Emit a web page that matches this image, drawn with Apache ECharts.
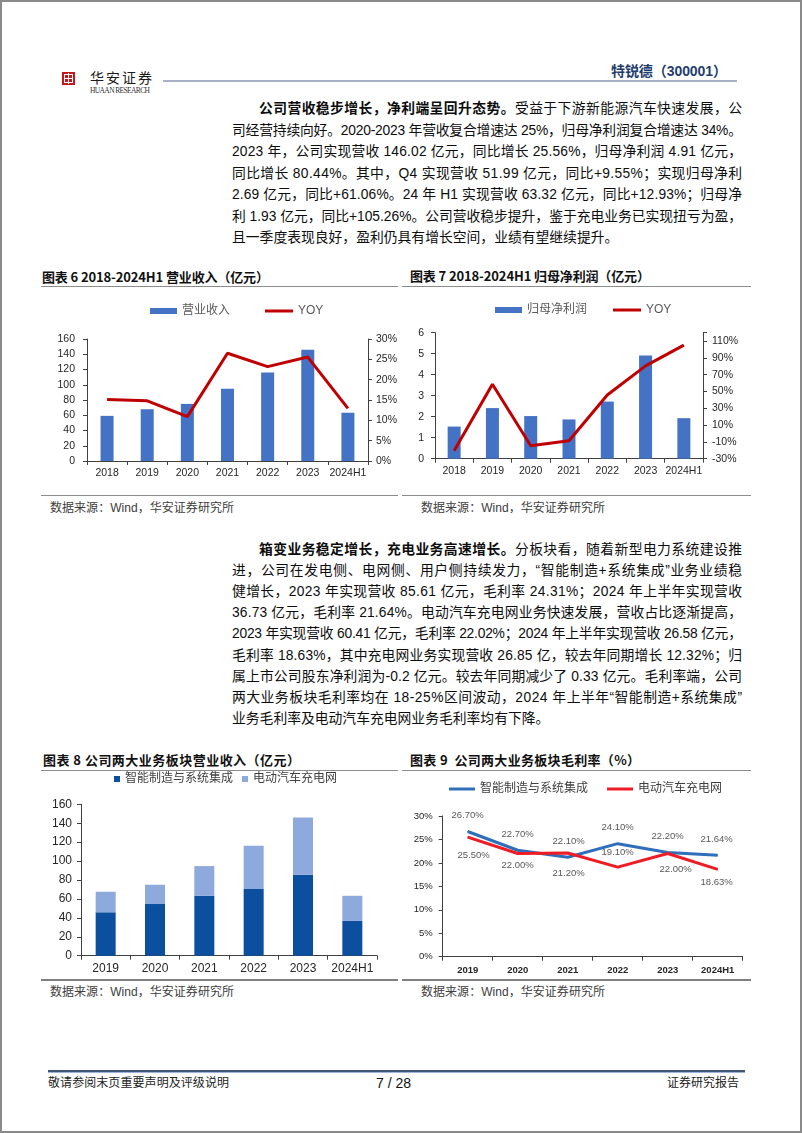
<!DOCTYPE html>
<html><head><meta charset="utf-8">
<script src="https://cdn.jsdelivr.net/npm/echarts@6/dist/echarts.min.js"></script>
<style>
html,body{margin:0;padding:0;background:#fff;}
#page{position:relative;width:802px;height:1133px;overflow:hidden;font-family:"Liberation Sans","Noto Sans CJK SC",sans-serif;color:#000;background:#fff;}
.frame{position:absolute;left:0;top:0;width:802px;height:1133px;box-sizing:border-box;border:2px solid #8a8a8a;pointer-events:none;}
.abs{position:absolute;white-space:nowrap;}
.ln{position:absolute;white-space:nowrap;font-size:13.8px;height:20px;line-height:20px;color:#0d0d0d;}
.ln b{font-weight:bold;}
.ttl{position:absolute;white-space:nowrap;font-weight:bold;font-size:13px;height:16px;line-height:16px;color:#111;font-family:"Noto Sans CJK SC","Liberation Sans",sans-serif;}
.hr{position:absolute;height:0;border-top:1.5px solid #8c8c8c;}
.src{position:absolute;white-space:nowrap;font-size:12px;height:16px;line-height:16px;color:#404040;}
.chart{position:absolute;}
</style></head>
<body><div id="page">
<div id="texts"></div>
<div id="c6" class="chart" style="left:40px;top:295px;width:360px;height:195px;"></div>
<div id="c7" class="chart" style="left:400px;top:295px;width:360px;height:195px;"></div>
<div id="c8" class="chart" style="left:40px;top:765px;width:360px;height:215px;"></div>
<div id="c9" class="chart" style="left:400px;top:765px;width:360px;height:215px;"></div>
<div class="frame"></div>
</div>
<script>
// ---------- data ----------
const years6 = ['2018', '2019', '2020', '2021', '2022', '2023', '2024H1'];
const revenue = [59.2, 67.9, 74.9, 94.9, 116.0, 146.02, 63.32];
const revenueYoy = [15.1, 14.8, 10.9, 26.5, 23.2, 25.56, 12.93];
const netProfit = [1.53, 2.41, 2.03, 1.87, 2.72, 4.91, 1.93];
const netProfitYoy = [-20.5, 58.6, -14.5, -8.6, 45.8, 80.44, 105.26];
const years8 = ['2019', '2020', '2021', '2022', '2023', '2024H1'];
const smartMfgRev = [45.8, 54.6, 63.3, 70.6, 85.61, 36.73];
const evChargingRev = [21.8, 20.4, 31.4, 45.7, 60.41, 26.58];
const smartMfgMargin = [26.7, 22.7, 21.2, 24.1, 22.2, 21.64];
const evChargingMargin = [25.5, 22.0, 22.1, 19.1, 22.0, 18.63];
const ticks6Left = [0, 160, 20];
const ticks6Right = [0, 30, 5];
const ticks7Left = [0, 6, 1];
const ticks7Right = [-30, 120, 20];
const ticks8 = [0, 160, 20];
const ticks9 = [0, 30, 5];

// ---------- text ----------
const para1 = [
  '<b>公司营收稳步增长，净利端呈回升态势。</b>受益于下游新能源汽车快速发展，公',
  '司经营持续向好。2020-2023 年营收复合增速达 25%，归母净利润复合增速达 34%。',
  '2023 年，公司实现营收 146.02 亿元，同比增长 25.56%，归母净利润 4.91 亿元，',
  '同比增长 80.44%。其中，Q4 实现营收 51.99 亿元，同比+9.55%；实现归母净利',
  '2.69 亿元，同比+61.06%。24 年 H1 实现营收 63.32 亿元，同比+12.93%；归母净',
  '利 1.93 亿元，同比+105.26%。公司营收稳步提升，鉴于充电业务已实现扭亏为盈，',
  '且一季度表现良好，盈利仍具有增长空间，业绩有望继续提升。'
];
const para2 = [
  '<b>箱变业务稳定增长，充电业务高速增长。</b>分板块看，随着新型电力系统建设推',
  '进，公司在发电侧、电网侧、用户侧持续发力，“智能制造+系统集成”业务业绩稳',
  '健增长，2023 年实现营收 85.61 亿元，毛利率 24.31%；2024 年上半年实现营收',
  '36.73 亿元，毛利率 21.64%。电动汽车充电网业务快速发展，营收占比逐渐提高，',
  '2023 年实现营收 60.41 亿元，毛利率 22.02%；2024 年上半年实现营收 26.58 亿元，',
  '毛利率 18.63%，其中充电网业务实现营收 26.85 亿，较去年同期增长 12.32%；归',
  '属上市公司股东净利润为-0.2 亿元。较去年同期减少了 0.33 亿元。毛利率端，公司',
  '两大业务板块毛利率均在 18-25%区间波动，2024 年上半年“智能制造+系统集成”',
  '业务毛利率及电动汽车充电网业务毛利率均有下降。'
];

const host = document.getElementById('texts');
function add(cls, html, style) {
  const d = document.createElement('div');
  d.className = cls; d.innerHTML = html; d.style.cssText = style;
  host.appendChild(d); return d;
}
function fit(el, target) {
  el.style.letterSpacing = '0px';
  const w = el.getBoundingClientRect().width;
  const n = [...el.textContent].length;
  if (n > 1) el.style.letterSpacing = ((target - w) / (n - 1)) + 'px';
}
function para(lines, y0, dy) {
  lines.forEach((t, i) => {
    const left = i === 0 ? 259 : 232;
    const el = add('ln', t, 'left:' + left + 'px;top:' + (y0 + i * dy - 10) + 'px;');
    if (i < lines.length - 1) fit(el, 742 - left);
  });
}
para(para1, 109, 21.55);
para(para2, 550, 21.1);

// header
add('abs', '', 'left:62px;top:72px;width:13px;height:13px;background:#c8161d;');
add('abs', '', 'left:64px;top:74px;width:7px;height:7px;border:1px solid #fff;');
add('abs', '', 'left:68px;top:73px;width:1px;height:11px;background:#fff;');
add('abs', '', 'left:65px;top:77.5px;width:7px;height:1px;background:#fff;');
const hz = add('abs', '华安证券', 'left:90px;top:69px;font-size:14px;line-height:17px;color:#1a1a1a;font-family:"Noto Sans CJK SC";');
fit(hz, 62);
const hr2 = add('abs', 'HUAAN RESEARCH', 'left:90px;top:86px;font-size:7.5px;line-height:9px;color:#333;font-family:"Liberation Serif";');
fit(hr2, 60);
add('abs', '', 'left:163px;top:80px;width:574px;height:2px;background:#a9b1c6;');
const tk = add('abs', '特锐德（300001）', 'left:611px;top:62px;font-size:14px;line-height:18px;font-weight:bold;color:#1f3e6e;');
fit(tk, 116);

// chart titles & rules
const t6 = add('ttl', '图表 6 2018-2024H1 营业收入（亿元）', 'left:42px;top:269px;'); fit(t6, 227);
const t7 = add('ttl', '图表 7 2018-2024H1 归母净利润（亿元）', 'left:410px;top:268px;'); fit(t7, 240);
const t8 = add('ttl', '图表 8 公司两大业务板块营业收入（亿元）', 'left:43px;top:752px;'); fit(t8, 257);
const t9 = add('ttl', '图表 9&nbsp;&nbsp;公司两大业务板块毛利率（%）', 'left:410px;top:752px;'); fit(t9, 230);
add('hr', '', 'left:41px;top:285.5px;width:357px;');
add('hr', '', 'left:402px;top:285.5px;width:349px;');
add('hr', '', 'left:41px;top:495px;width:357px;');
add('hr', '', 'left:402px;top:495px;width:349px;');
add('hr', '', 'left:41px;top:769.5px;width:357px;');
add('hr', '', 'left:402px;top:769.5px;width:349px;');
add('hr', '', 'left:41px;top:978.5px;width:357px;border-top:2px solid #808080;');
add('hr', '', 'left:402px;top:978.5px;width:349px;border-top:2px solid #808080;');
['50px;top:500px', '421px;top:500px', '50px;top:984px', '421px;top:984px'].forEach(p => {
  const s = add('src', '数据来源：Wind，华安证券研究所', 'left:' + p + ';'); fit(s, 184);
});

// footer
add('abs', '', 'left:48px;top:1070px;width:697px;height:2px;background:#3e5576;');
add('abs', '', 'left:48px;top:1072px;width:697px;height:1px;background:#9fb3d6;');
const f1 = add('abs', '敬请参阅末页重要声明及评级说明', 'left:48px;top:1075px;font-size:12px;line-height:16px;color:#222;'); fit(f1, 181);
add('abs', '7 / 28', 'left:376px;top:1074px;font-size:14px;line-height:18px;color:#111;');
const f3 = add('abs', '证券研究报告', 'left:667px;top:1075px;font-size:12px;line-height:16px;color:#222;'); fit(f3, 72);

// ---------- charts ----------
const FONT = '"Liberation Sans","Noto Sans CJK SC",sans-serif';
const AX = '#404040';
function legendItem(name, left, centerY, w, h, color, ox, oy, txtColor) {
  return {
    data: [{ name: name, icon: 'rect', itemStyle: { color: color, borderWidth: 0 } }],
    left: left - ox, top: centerY - 7 - oy, itemWidth: w, itemHeight: h, padding: 0,
    selectedMode: false,
    textStyle: { fontSize: 12, color: txtColor, lineHeight: 14, fontFamily: FONT }
  };
}
function valAxis(t, extra) {
  return Object.assign({
    type: 'value', min: t[0], max: t[1], interval: t[2],
    axisLine: { show: true, lineStyle: { color: AX, width: 1 } },
    axisTick: { show: true, length: 4, lineStyle: { color: AX } },
    splitLine: { show: false }
  }, extra);
}
function catAxis(data, fs, margin, extraLabel) {
  return {
    type: 'category', data: data,
    axisLine: { lineStyle: { color: AX, width: 1 } },
    axisTick: { show: true, length: 4, lineStyle: { color: AX } },
    axisLabel: Object.assign({ fontSize: fs, color: '#262626', margin: margin, interval: 0, fontFamily: FONT }, extraLabel || {})
  };
}

// Chart 6
(function () {
  const ox = 40, oy = 295;
  const c = echarts.init(document.getElementById('c6'));
  c.setOption({
    animation: false, textStyle: { fontFamily: FONT },
    legend: [
      legendItem('营业收入', 150, 311, 27, 6, '#4472C4', ox, oy, '#595959'),
      legendItem('YOY', 265, 311, 28, 3, '#C00000', ox, oy, '#595959')
    ],
    grid: { left: 87 - ox, top: 339 - oy, width: 283, height: 122 },
    xAxis: catAxis(years6, 10.5, 7),
    yAxis: [
      valAxis(ticks6Left, { axisLabel: { margin: 12, fontSize: 10.5, color: '#262626' } }),
      valAxis(ticks6Right, { position: 'right', axisLabel: { margin: 8, fontSize: 10.5, color: '#262626', formatter: '{value}%' } })
    ],
    series: [
      { name: '营业收入', type: 'bar', data: revenue, barWidth: 13, itemStyle: { color: '#4472C4' } },
      { name: 'YOY', type: 'line', yAxisIndex: 1, data: revenueYoy, symbol: 'none', lineStyle: { width: 3, color: '#C00000' }, itemStyle: { color: '#C00000' } }
    ]
  });
})();

// Chart 7
(function () {
  const ox = 400, oy = 295;
  const c = echarts.init(document.getElementById('c7'));
  c.setOption({
    animation: false, textStyle: { fontFamily: FONT },
    legend: [
      legendItem('归母净利润', 495, 310, 27, 6, '#4472C4', ox, oy, '#595959'),
      legendItem('YOY', 613, 310, 28, 3, '#C00000', ox, oy, '#595959')
    ],
    grid: { left: 435 - ox, top: 332.7 - oy, width: 268, height: 126 },
    xAxis: catAxis(years6, 10.5, 7),
    yAxis: [
      valAxis(ticks7Left, { axisLabel: { margin: 11, fontSize: 10.5, color: '#262626' } }),
      valAxis(ticks7Right, { position: 'right', axisLabel: { margin: 9, fontSize: 10.5, color: '#262626', formatter: v => v === ticks7Right[1] ? '' : v + '%' } })
    ],
    series: [
      { name: '归母净利润', type: 'bar', data: netProfit, barWidth: 13, itemStyle: { color: '#4472C4' } },
      { name: 'YOY', type: 'line', yAxisIndex: 1, data: netProfitYoy, symbol: 'none', lineStyle: { width: 3, color: '#C00000' }, itemStyle: { color: '#C00000' } }
    ]
  });
})();

// Chart 8
(function () {
  const ox = 40, oy = 765;
  const c = echarts.init(document.getElementById('c8'));
  c.setOption({
    animation: false, textStyle: { fontFamily: FONT },
    legend: [
      legendItem('智能制造与系统集成', 114, 779, 6, 6, '#0B4F9E', ox, oy, '#404040'),
      legendItem('电动汽车充电网', 242, 779, 6, 6, '#8EA9DB', ox, oy, '#404040')
    ],
    grid: { left: 81 - ox, top: 804.3 - oy, width: 296, height: 151.4 },
    xAxis: catAxis(years8, 12, 7),
    yAxis: valAxis(ticks8, { axisLabel: { margin: 9, fontSize: 12, color: '#262626' } }),
    series: [
      { name: '智能制造与系统集成', type: 'bar', stack: 'rev', data: smartMfgRev, barWidth: 20, itemStyle: { color: '#0B4F9E' } },
      { name: '电动汽车充电网', type: 'bar', stack: 'rev', data: evChargingRev, barWidth: 20, itemStyle: { color: '#8EA9DB' } }
    ]
  });
})();

// Chart 9
(function () {
  const ox = 400, oy = 765;
  const c = echarts.init(document.getElementById('c9'));
  const blueOff = [[0, -16], [0, -16], [1, 16], [0, -16], [0, -16], [-1, -16]];
  const redOff = [[6, 18], [0, 12], [1, -12], [0, -15], [8, 15.5], [-1, 13]];
  const lbl = { show: true, position: 'inside', fontSize: 9.5, color: '#595959', fontFamily: FONT,
    formatter: p => Number(p.value).toFixed(2) + '%' };
  c.setOption({
    animation: false, textStyle: { fontFamily: FONT },
    legend: [
      legendItem('智能制造与系统集成', 449, 789, 26, 3, '#2F6EBA', ox, oy, '#404040'),
      legendItem('电动汽车充电网', 607, 789, 26, 3, '#EE1C25', ox, oy, '#404040')
    ],
    grid: { left: 442.7 - ox, top: 816 - oy, width: 300, height: 140.7 },
    xAxis: catAxis(years8, 9.5, 8.5, { fontWeight: 'bold' }),
    yAxis: valAxis(ticks9, { axisLabel: { margin: 10, fontSize: 9.5, color: '#262626', formatter: '{value}%' } }),
    series: [
      { name: '智能制造与系统集成', type: 'line', symbol: 'circle', symbolSize: 1, showSymbol: true,
        data: smartMfgMargin.map((v, i) => ({ value: v, label: { offset: blueOff[i] } })),
        label: lbl, lineStyle: { width: 3, color: '#2F6EBA' }, itemStyle: { color: '#2F6EBA' } },
      { name: '电动汽车充电网', type: 'line', symbol: 'circle', symbolSize: 1, showSymbol: true,
        data: evChargingMargin.map((v, i) => ({ value: v, label: { offset: redOff[i] } })),
        label: lbl, lineStyle: { width: 3, color: '#EE1C25' }, itemStyle: { color: '#EE1C25' } }
    ]
  });
})();
</script>
</body></html>
